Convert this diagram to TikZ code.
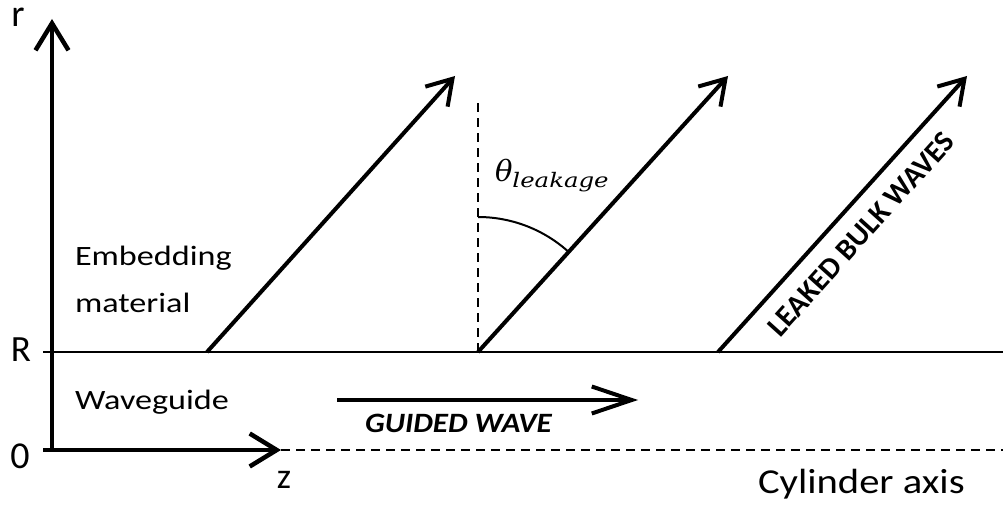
\documentclass[tikz,border=0pt]{standalone}
\usepackage{fontspec}
\setmainfont{Carlito}
\newfontfamily\dvserif{DejaVu Serif}
\usepackage{graphicx}
\usetikzlibrary{arrows.meta}
\tikzset{
  thickarrow/.style={line width=4pt, -{Straight Barb[length=24pt,width=30pt,line width=4pt]}},
  axisarrow/.style={line width=4.5pt, -{Straight Barb[length=27pt,width=33pt,line width=4.5pt]}},
  thinline/.style={line width=2pt},
  dashline/.style={line width=2pt, dash pattern=on 9pt off 6pt},
  lbl/.style={inner sep=0pt, outer sep=0pt, text=black}
}
\newcommand{\fsz}[1]{\fontsize{#1}{#1}\selectfont}
\begin{document}
\begin{tikzpicture}[x=1pt,y=1pt]
\useasboundingbox (0,0) rectangle (1003,506);
% coordinates
\coordinate (O) at (52,56);
\coordinate (rtop) at (52,487);
\coordinate (zstart) at (43,56);
\coordinate (ztip) at (281,56);
\coordinate (Rl) at (43,154);
\coordinate (Rr) at (1003,154);
\coordinate (axr) at (1003,56);
\coordinate (a1s) at (207,154);
\coordinate (a1e) at (455,430);
\coordinate (a2s) at (478,154);
\coordinate (a2e) at (728,430);
\coordinate (a3s) at (718,154);
\coordinate (a3e) at (967,430);
\coordinate (vtop) at (478,403);
\coordinate (arcs) at (478,289);
\coordinate (gs) at (337,106);
\coordinate (ge) at (638,106);
% lines
\draw[thinline] (Rl) -- (Rr);
\draw[dashline] (ztip) -- (axr);
\draw[dashline] (a2s) -- (vtop);
\draw[thinline] (arcs) arc[start angle=90, end angle=48, radius=135pt];
\draw[axisarrow] (52,58) -- (rtop);
\draw[axisarrow] (zstart) -- (ztip);
\draw[thickarrow] (a1s) -- (a1e);
\draw[thickarrow] (a2s) -- (a2e);
\draw[thickarrow] (a3s) -- (a3e);
\draw[line width=4pt, -{Straight Barb[length=40pt,width=27pt,line width=4pt]}] (gs) -- (ge);
% labels
\node[lbl, anchor=base] (rl) at (18,479) {\fsz{38}r};
\node[lbl, anchor=base] (zl) at (284,18) {\fsz{36}z};
\node[lbl, anchor=base] (Rlab) at (21,144) {\fsz{37}R};
\node[lbl, anchor=base] (Ol) at (20,38) {\fsz{38}0};
\node[lbl, anchor=base west] (emb) at (75,240) {\fsz{28}\scalebox{1.22}[1]{Embedding}};
\node[lbl, anchor=base west] (mat) at (75,193) {\fsz{28}\scalebox{1.22}[1]{material}};
\node[lbl, anchor=base west] (wg) at (75,96) {\fsz{28}\scalebox{1.22}[1]{Waveguide}};
\node[lbl, anchor=base west] (gw) at (365,74) {\fsz{28}\scalebox{1.11}[1]{\textbf{\textit{GUIDED WAVE}}}};
\node[lbl, anchor=base west] (cyl) at (758,13) {\fsz{35}\scalebox{1.16}[1]{Cylinder axis}};
\node[lbl, anchor=base west] (theta) at (495,324) {\dvserif\itshape\fsz{29}θ\raisebox{-6pt}{\fsz{20}\scalebox{1.22}[1]{leakage}}};
\node[lbl, rotate=48] (lbw) at (861,272) {\fsz{30}\textbf{LEAKED BULK WAVES}};
\end{tikzpicture}
\end{document}
